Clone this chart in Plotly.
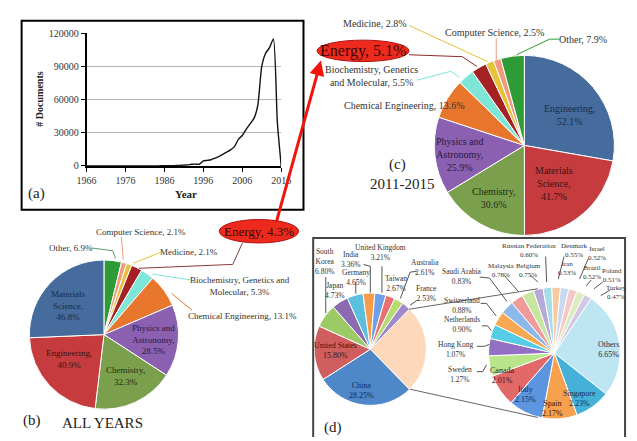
import plotly.graph_objects as go

W, H = 637, 441
FONT = "Liberation Serif"

# ---------------- data ----------------
years = list(range(1966, 2017))
documents = [0, 0, 0, 0, 0, 0, 0, 0, 0, 0, 0, 0, 0, 0,
             10, 20, 30, 40, 60, 80, 120, 180, 250, 350, 500, 700, 900, 1500, 1600, 1500,
             4500, 5000, 5600, 7000, 8500, 10500, 12500, 14500, 17500, 24000,
             27500, 33000, 38000, 43000, 55000, 90000, 102000, 107000, 115000, 40000, 0]

# clockwise from 12 o'clock
fields_all = ["Other", "Computer Science", "Medicine", "Energy",
              "Biochemistry, Genetics and Molecular", "Chemical Engineering",
              "Physics and Astronomy", "Chemistry", "Engineering", "Materials Science"]
share_all = [6.9, 2.1, 2.1, 4.3, 5.3, 13.1, 28.5, 32.3, 40.9, 46.8]

fields_recent = ["Engineering", "Materials Science", "Chemistry", "Physics and Astronomy",
                 "Chemical Engineering", "Biochemistry, Genetics and Molecular", "Energy",
                 "Medicine", "Computer Science", "Other"]
share_recent = [52.1, 41.7, 30.6, 25.9, 13.6, 5.5, 5.1, 2.8, 2.5, 7.9]

countries_minor = ["Others", "Singapore", "Spain", "Italy", "Canada", "Sweden", "Hong Kong",
                   "Netherlands", "Switzerland", "Saudi Arabia", "Malaysia", "Belgium",
                   "Russian Federation", "Denmark", "Iran", "Israel", "Brazil", "Poland", "Turkey"]
share_minor = [6.65, 2.23, 2.17, 2.15, 2.01, 1.27, 1.07, 0.90, 0.88, 0.83, 0.78, 0.75,
               0.60, 0.55, 0.53, 0.52, 0.52, 0.51, 0.47]

countries_main = ["Other countries", "China", "United States", "South Korea", "Japan", "Germany",
                  "India", "United Kingdom", "Taiwan", "Australia", "France"]
share_main = [round(sum(share_minor), 2), 28.25, 15.80, 6.80, 4.73, 4.65, 3.36, 3.21, 2.67, 2.61, 2.53]

# ---------------- styles ----------------
field_color = {"Materials Science": "#456C9C", "Engineering": "#C63B3D", "Chemistry": "#7AA04E",
               "Physics and Astronomy": "#8B60B0", "Chemical Engineering": "#E8772D",
               "Biochemistry, Genetics and Molecular": "#7EE6D6", "Energy": "#A52224",
               "Medicine": "#E6C23A", "Computer Science": "#F09A80", "Other": "#2F9B36"}
recent_color = {"Engineering": "#456C9C", "Materials Science": "#C63B3D", "Chemistry": "#7AA04E",
                "Physics and Astronomy": "#8B60B0", "Chemical Engineering": "#E8772D",
                "Biochemistry, Genetics and Molecular": "#7EE6D6", "Energy": "#A52224",
                "Medicine": "#E6C23A", "Computer Science": "#F09A80", "Other": "#2F9B36"}
col_main = ["#FDD8BA", "#4F88C8", "#D05E5E", "#9CCB66", "#8A6AB0", "#5BC0DE", "#F79A4A",
            "#6CA0E8", "#E87070", "#B6DC70", "#A08ACB"]
col_minor = ["#BDE6F2", "#45B0D8", "#F7A04D", "#5D95E0", "#E36868", "#B8E58A", "#9470C4",
             "#56CDE6", "#F8A850", "#8DB8EA", "#F09A9A", "#C8E6A0", "#B8A8D8", "#A6DDEA",
             "#F9C9A0", "#C8DAF2", "#F5C8C8", "#DCEBC0", "#D2C8E6"]


def px(x):
    return x / W


def py(y):
    return 1 - y / H


def dom(cx, cy, r):
    return dict(x=[px(cx - r), px(cx + r)], y=[py(cy + r), py(cy - r)])


fig = go.Figure()

# (a) line chart
fig.add_trace(go.Scatter(x=years, y=documents, mode="lines",
                         line=dict(color="#111", width=1.4, shape="spline", smoothing=0.6),
                         hoverinfo="skip", showlegend=False))

# (b) all years pie
fig.add_trace(go.Pie(labels=fields_all, values=share_all, sort=False, direction="clockwise",
                     rotation=0, textinfo="none",
                     marker=dict(colors=[field_color[f] for f in fields_all], line=dict(color="white", width=1)),
                     domain=dom(97, 337, 77), showlegend=False, hoverinfo="skip"))

# (c) 2011-2015 pie
fig.add_trace(go.Pie(labels=fields_recent, values=share_recent, sort=False, direction="clockwise",
                     rotation=0, textinfo="none",
                     marker=dict(colors=[recent_color[f] for f in fields_recent], line=dict(color="white", width=1)),
                     domain=dom(531, 143, 93), showlegend=False, hoverinfo="skip"))

# (d) pie of pie
rot_main = 90 - share_main[0] / sum(share_main) * 360 / 2
fig.add_trace(go.Pie(labels=countries_main, values=share_main, sort=False, direction="clockwise",
                     rotation=rot_main, textinfo="none",
                     marker=dict(colors=col_main, line=dict(color="white", width=1)),
                     domain=dom(372, 352, 58), showlegend=False, hoverinfo="skip"))
fig.add_trace(go.Pie(labels=countries_minor, values=share_minor, sort=False, direction="clockwise",
                     rotation=34, textinfo="none",
                     marker=dict(colors=col_minor, line=dict(color="white", width=1)),
                     domain=dom(562, 356, 68), showlegend=False, hoverinfo="skip"))

shapes = []


def poly(points, color, width=1):
    d = "M " + " L ".join(f"{px(x):.5f},{py(y):.5f}" for x, y in points)
    shapes.append(dict(type="path", path=d, xref="paper", yref="paper",
                       line=dict(color=color, width=width), layer="above"))


# panel borders
shapes.append(dict(type="rect", xref="paper", yref="paper", x0=px(12), x1=px(303), y0=py(209), y1=py(15),
                   line=dict(color="black", width=2)))
poly([(313, 442), (313, 238), (635, 238), (635, 442)], "#444", 2)

# (b) leaders
poly([(83, 248), (106, 251), (109, 259)], "#5E9E64")
poly([(115, 237), (117, 260)], "#F09A80")
poly([(157, 252), (127, 264)], "#E6C23A")
poly([(133, 269), (230, 265), (240, 243)], "#8E3A3A")
poly([(147, 275), (187, 281)], "#7EE6D6")
poly([(167, 295), (188, 312)], "#E8772D")

# (c) leaders
poly([(412, 20), (493, 57)], "#E6C23A")
poly([(502, 33), (502, 55)], "#F09A80")
poly([(567, 34), (557, 34), (523, 50)], "#2F9B36")
poly([(412, 50), (467, 52), (482, 62)], "#8E2A2A")
poly([(420, 76), (455, 67), (464, 73)], "#7EE6D6")

# (d) leaders
g = "#555"
poly([(326, 278), (326, 315)], g)
poly([(365, 265), (372, 267), (372, 294)], g)
poly([(384, 267), (384, 294)], g)
poly([(357, 283), (357, 295)], g)
poly([(420, 272), (413, 273), (403, 300)], g)
poly([(420, 302), (413, 307)], g)
poly([(485, 278), (495, 279), (513, 303)], g)
poly([(486, 305), (492, 305), (502, 318)], g)
poly([(487, 328), (493, 328), (497, 333)], g)
poly([(482, 349), (490, 349), (495, 347)], g)
poly([(482, 375), (488, 375), (492, 368)], g)
poly([(510, 276), (525, 293)], g)
poly([(537, 276), (545, 283)], g)
poly([(553, 257), (554, 283)], g)
poly([(572, 257), (566, 280)], g)
poly([(597, 259), (588, 280)], g)
poly([(600, 281), (595, 287)], g)
poly([(612, 283), (603, 290)], g)
poly([(620, 291), (610, 297)], g)
# connectors
poly([(412, 311), (545, 290)], "#666")
poly([(413, 393), (545, 422)], "#666")

# Energy ellipses
shapes.append(dict(type="circle", xref="paper", yref="paper", x0=px(216), x1=px(298), y0=py(243), y1=py(219),
                   fillcolor="#EE2A1C", line=dict(color="#B01010", width=1)))
shapes.append(dict(type="circle", xref="paper", yref="paper", x0=px(317), x1=px(412), y0=py(57), y1=py(35),
                   fillcolor="#EE2A1C", line=dict(color="#B01010", width=1)))

ann = []


def txt(t, x, y, size=9, color="#333", bold=False, angle=0, xanchor="center"):
    if bold:
        t = f"<b>{t}</b>"
    ann.append(dict(text=t, x=px(x), y=py(y), xref="paper", yref="paper", showarrow=False,
                    xanchor=xanchor, yanchor="middle", textangle=angle,
                    font=dict(family=FONT, size=size, color=color)))


fa = dict(zip(fields_all, share_all))
fr = dict(zip(fields_recent, share_recent))

# (a) texts
txt("Year", 182, 193, 11, "#222", bold=True)
txt("# Documents", 31, 96, 10, "#222", bold=True, angle=-90)
txt("(a)", 27, 192, 15, "#222")

# (b) texts
txt(f"Other, {fa['Other']}%", 63, 248, 9)
txt(f"Computer Science, {fa['Computer Science']}%", 135, 232, 9)
txt(f"Medicine, {fa['Medicine']}%", 185, 252, 9)
txt(f"Biochemistry, Genetics and<br>Molecular, {fa['Biochemistry, Genetics and Molecular']}%", 237, 287, 9)
txt(f"Chemical Engineering, {fa['Chemical Engineering']}%", 240, 318, 9)
txt(f"Materials<br>Science,<br>{fa['Materials Science']}%", 60, 307, 9, "#1B2B4B")
txt(f"Engineering,<br>{fa['Engineering']}%", 61, 362, 9, "#3A1515")
txt(f"Chemistry,<br>{fa['Chemistry']}%", 119, 379, 9, "#1E2E10")
txt(f"Physics and<br>Astronomy,<br>{fa['Physics and Astronomy']}%", 148, 342, 9, "#2A1A40")
txt(f"Energy, {fa['Energy']}%", 257, 231, 13, "#3A0808")
txt("(b)", 23, 425, 15, "#222")
txt("ALL YEARS", 95, 428, 15, "#222")

# (c) texts
txt(f"Medicine, {fr['Medicine']}%", 377, 18, 10)
txt(f"Computer Science, {fr['Computer Science']}%", 500, 27, 10)
txt(f"Other, {fr['Other']}%", 592, 34, 10)
txt(f"Biochemistry, Genetics<br>and Molecular, {fr['Biochemistry, Genetics and Molecular']}%", 373, 72, 10)
txt(f"Chemical Engineering, {fr['Chemical Engineering']}%", 407, 102, 10)
txt(f"Engineering,<br>{fr['Engineering']}%", 578, 112, 10, "#1B2B4B")
txt(f"Materials<br>Science,<br>{fr['Materials Science']}%", 562, 182, 10, "#3A1515")
txt(f"Chemistry,<br>{fr['Chemistry']}%", 500, 197, 10, "#1E2E10")
txt(f"Physics and<br>Astronomy,<br>{fr['Physics and Astronomy']}%", 465, 152, 10, "#2A1A40")
txt(f"Energy, {fr['Energy']}%", 364, 46, 16, "#3A0808")
txt("(c)", 400, 163, 15, "#222")
txt("2011-2015", 405, 183, 15, "#222")


# (d) texts
def cl(name, val, x, y, color="#333", size=7.5):
    txt(f"{name}<br>{val:.2f}%", x, y, size, color)


cm = dict(zip(countries_main, share_main))
cn = dict(zip(countries_minor, share_minor))
cl("South<br>Korea", cm["South Korea"], 325, 262)
cl("India", cm["India"], 352, 260)
cl("United Kingdom", cm["United Kingdom"], 383, 253)
cl("Germany", cm["Germany"], 357, 278)
cl("Japan", cm["Japan"], 335, 292)
cl("Taiwan", cm["Taiwan"], 398, 285)
cl("Australia", cm["Australia"], 428, 268)
cl("France", cm["France"], 430, 295)
cl("United States", cm["United States"], 336, 353, "#3A1515", 8)
cl("China", cm["China"], 363, 394, "#1B2B4B", 8)
cl("Saudi Arabia", cn["Saudi Arabia"], 467, 277)
cl("Switzerland", cn["Switzerland"], 467, 307)
cl("Netherlands", cn["Netherlands"], 467, 327)
cl("Hong Kong", cn["Hong Kong"], 460, 352)
cl("Sweden", cn["Sweden"], 465, 378)
cl("Malaysia", cn["Malaysia"], 507, 271, size=7)
cl("Belgium", cn["Belgium"], 535, 271, size=7)
cl("Russian Federation", cn["Russian Federation"], 536, 251, size=7)
cl("Denmark", cn["Denmark"], 583, 251, size=7)
cl("Israel", cn["Israel"], 606, 254, size=7)
cl("Iran", cn["Iran"], 575, 269, size=7)
cl("Brazil", cn["Brazil"], 601, 273, size=7)
cl("Poland", cn["Poland"], 621, 276, size=7)
cl("Turkey", cn["Turkey"], 626, 294, size=7)
cl("Others", cn["Others"], 618, 352, "#1B2B4B", 8)
cl("Singapore", cn["Singapore"], 588, 403, "#1B2B4B", 8)
cl("Spain", cn["Spain"], 560, 413, "#3A2008", 8)
cl("Italy", cn["Italy"], 532, 398, "#1B2B4B", 8)
cl("Canada", cn["Canada"], 508, 379, "#3A1515", 8)
txt("(d)", 333, 432, 15, "#222")

# red arrow from (b) Energy to (c) Energy
ann.append(dict(x=px(321), y=py(56), xref="paper", yref="paper", ax=276 - 321, ay=219 - 56,
                axref="pixel", ayref="pixel", text="", showarrow=True, arrowhead=2, arrowsize=1,
                arrowwidth=3, arrowcolor="#F0140A"))

fig.update_layout(
    width=W, height=H, margin=dict(l=0, r=0, t=0, b=0),
    paper_bgcolor="white", plot_bgcolor="white",
    font=dict(family=FONT, size=10, color="#333"),
    shapes=shapes, annotations=ann, showlegend=False,
    xaxis=dict(domain=[px(79), px(280)], range=[1966, 2016], tickvals=list(range(1966, 2017, 10)),
               showline=True, linecolor="black", linewidth=1.5, ticks="outside", ticklen=4,
               tickcolor="black", showgrid=False, zeroline=False, anchor="y",
               tickfont=dict(family=FONT, size=10, color="#333")),
    yaxis=dict(domain=[py(164), py(28)], range=[0, 120000], tickvals=list(range(0, 120001, 30000)),
               tickformat="d", showline=True, linecolor="black", linewidth=1.5, ticks="outside",
               ticklen=4, tickcolor="black", showgrid=True, gridcolor="#B5B5B5", gridwidth=1,
               zeroline=False, anchor="x", tickfont=dict(family=FONT, size=10, color="#333")),
)

fig.write_html("out.html")
